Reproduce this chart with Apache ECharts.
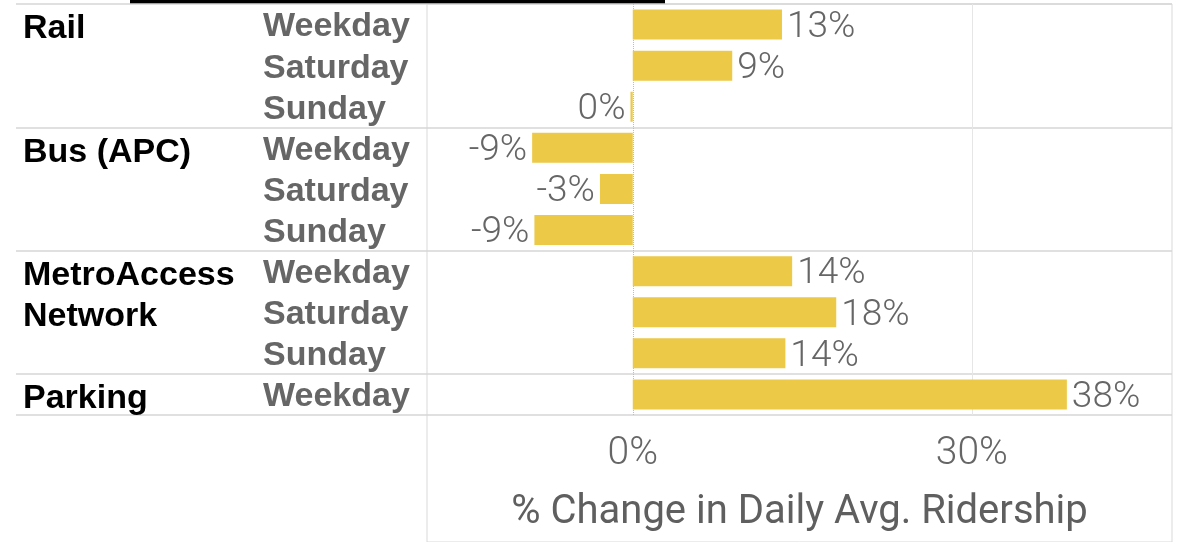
<!DOCTYPE html>
<html>
<head>
<meta charset="utf-8">
<script src="https://cdn.jsdelivr.net/npm/echarts@6/dist/echarts.min.js"></script>
<style>
  html, body { margin: 0; padding: 0; background: #fff; }
  #main { width: 1181px; height: 542px; }
</style>
</head>
<body>
<div id="main"></div>
<script>
// row labels
var groupNames = ['Rail', '', '', 'Bus (APC)', '', '', 'MetroAccess', 'Network', '', 'Parking'];
var dayTypes = ['Weekday', 'Saturday', 'Sunday', 'Weekday', 'Saturday', 'Sunday', 'Weekday', 'Saturday', 'Sunday', 'Weekday'];
// % change in daily avg ridership
var changePct = [13.2, 8.8, -0.2, -8.9, -2.9, -8.7, 14.1, 18.0, 13.5, 38.4];
var xTicks = [0, 30];
var groupStarts = [0, 3, 6, 9];

var chart = echarts.init(document.getElementById('main'));

var lineGrey = '#d6d6d6';
var textGrey = '#666666';

var option = {
  animation: false,
  graphic: [{
    type: 'rect', left: 130, top: 0,
    shape: { width: 535, height: 4 },
    style: { fill: '#000' }
  }],
  grid: [
    // pane box, runs down past the axis
    { left: 427, right: 9, top: 4, bottom: -2, show: true, borderColor: '#d9d9d9', borderWidth: 1, backgroundColor: 'transparent' },
    // group headers + separators
    { left: 16, right: 9, top: 4, bottom: 127 },
    // bars
    { left: 427, right: 9, top: 4, bottom: 127 }
  ],
  xAxis: [
    { gridIndex: 0, type: 'value', show: false },
    { gridIndex: 1, type: 'value', show: false },
    {
      gridIndex: 2, type: 'value', min: -18.2, max: 47.7,
      axisLine: { show: false }, axisTick: { show: false }, splitLine: { show: false },
      axisLabel: {
        customValues: xTicks, margin: 20,
        formatter: function (v) { return v + '%'; },
        fontFamily: 'Roboto', fontWeight: 300, fontSize: 39, color: textGrey
      },
      name: '% Change in Daily Avg. Ridership',
      nameLocation: 'middle', nameGap: 78,
      nameTextStyle: { fontFamily: 'Roboto', fontSize: 40, color: '#5f5f5f' }
    }
  ],
  yAxis: [
    { gridIndex: 0, type: 'value', show: false },
    {
      gridIndex: 1, type: 'category', data: groupNames, inverse: true,
      axisLine: { show: false }, axisTick: { show: false },
      splitLine: {
        show: true,
        interval: function (i) { return groupStarts.indexOf(i) >= 0; },
        lineStyle: { color: lineGrey, width: 1.5 }
      },
      axisLabel: {
        inside: true, margin: 7, interval: 0, align: 'left',
        formatter: function (v) { return v ? '{g|' + v + '}' : ''; },
        rich: {
          g: {
            padding: [9, 0, 0, 0],
            fontFamily: 'Liberation Sans', fontWeight: 'bold', fontSize: 34, color: '#000'
          }
        }
      }
    },
    {
      gridIndex: 2, type: 'category', data: dayTypes, inverse: true,
      axisLine: { show: false }, axisTick: { show: false }, splitLine: { show: false },
      axisLabel: {
        margin: 164, interval: 0, align: 'left',
        formatter: function (v) { return '{d|' + v + '}'; },
        rich: {
          d: {
            padding: [5, 0, 0, 0],
            fontFamily: 'Liberation Sans', fontWeight: 'bold', fontSize: 34, color: textGrey
          }
        }
      }
    }
  ],
  series: [{
    type: 'bar',
    xAxisIndex: 2,
    yAxisIndex: 2,
    barWidth: 30,
    itemStyle: { color: '#EDC948' },
    label: {
      show: true, distance: 5, offset: [0, 3],
      formatter: function (p) { return Math.round(p.value) + '%'; },
      fontFamily: 'Roboto', fontWeight: 300, fontSize: 37, color: textGrey
    },
    data: changePct.map(function (v) {
      return { value: v, label: { position: v < 0 ? 'left' : 'right' } };
    }),
    markLine: {
      silent: true, symbol: 'none', z: 1,
      label: { show: false },
      data: [
        { xAxis: 0, lineStyle: { color: '#bdbdbd', type: 'dotted', width: 1 } },
        { xAxis: 30, lineStyle: { color: '#e6e6e6', type: 'solid', width: 1 } }
      ]
    }
  }]
};

chart.setOption(option);
</script>
</body>
</html>
